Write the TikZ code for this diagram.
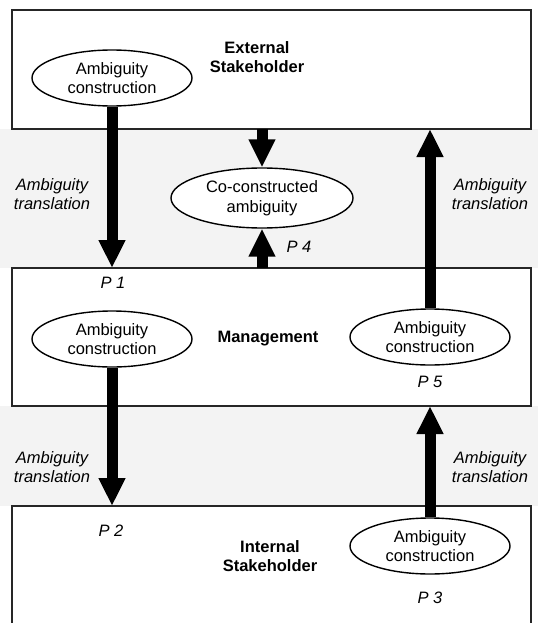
\documentclass[tikz,border=0pt]{standalone}
\usepackage{fontspec}
\setmainfont{Liberation Sans}
\usetikzlibrary{arrows.meta,shapes.geometric}
\definecolor{gap}{HTML}{F3F3F3}
\definecolor{edge}{HTML}{262626}

\begin{document}
\begin{tikzpicture}[x=1pt, y=-1pt,
    font=\fontsize{16.5}{19.5}\selectfont,
    band/.style={draw=edge, line width=1.5pt, fill=white, anchor=north west,
      minimum width=519pt, inner sep=0pt, outer sep=0pt},
    amb/.style={ellipse, draw, line width=1.4pt, fill=white, align=center,
      minimum width=160pt, minimum height=56pt, inner sep=0pt},
    flow/.style={line width=11pt, -{Triangle[length=28pt, width=25pt]}},
    lbl/.style={align=center, font=\fontsize{16.5}{19.5}\selectfont\itshape},
    actor/.style={align=center, font=\fontsize{16.5}{19.5}\selectfont\bfseries}]
  \useasboundingbox (0,0) rectangle (538,623);
  \fill[gap] (0,129) rectangle (538,268);
  \fill[gap] (0,406) rectangle (538,506);
  % the three bands
  \node[band, minimum height=119pt] (extbox) at (12,10) {};
  \node[band, minimum height=138pt] (mgmtbox) at (12,268) {};
  \node[band, minimum height=140pt] (intbox) at (12,506) {};
  \node[actor] (exttxt) at (257,57) {External\\Stakeholder};
  \node[actor] (mgmttxt) at (268,339) {Management};
  \node[actor] (inttxt) at (270,556) {Internal\\Stakeholder};
  % ambiguity nodes
  \node[amb] (ambext) at (112,78) {Ambiguity\\construction};
  \node[amb, minimum width=182pt, minimum height=60pt] (coamb) at (262,198) {Co-constructed\\ambiguity};
  \node[amb] (ambmgmtL) at (112,339) {Ambiguity\\construction};
  \node[amb] (ambmgmtR) at (430,337) {Ambiguity\\construction};
  \node[amb] (ambint) at (430,546) {Ambiguity\\construction};
  % translations between the bands
  \draw[flow] (ambext.south) -- (ambext.south |- mgmtbox.north);
  \draw[flow] (coamb.north |- extbox.south) -- (coamb.north);
  \draw[flow] (coamb.south |- mgmtbox.north) -- (coamb.south);
  \draw[flow] (ambmgmtR.north) -- (ambmgmtR.north |- extbox.south);
  \draw[flow] (ambmgmtL.south) -- (ambmgmtL.south |- intbox.north);
  \draw[flow] (ambint.north) -- (ambint.north |- mgmtbox.south);
  \node[lbl] (tranL1) at (52,194) {Ambiguity\\translation};
  \node[lbl] (tranR1) at (490,194) {Ambiguity\\translation};
  \node[lbl] (tranL2) at (52,467) {Ambiguity\\translation};
  \node[lbl] (tranR2) at (490,467) {Ambiguity\\translation};
  \node[lbl] (p1) at (113,283) {P 1};
  \node[lbl] (p2) at (111,531) {P 2};
  \node[lbl] (p3) at (430,598) {P 3};
  \node[lbl] (p4) at (299,247) {P 4};
  \node[lbl] (p5) at (430,382) {P 5};
\end{tikzpicture}
\end{document}
